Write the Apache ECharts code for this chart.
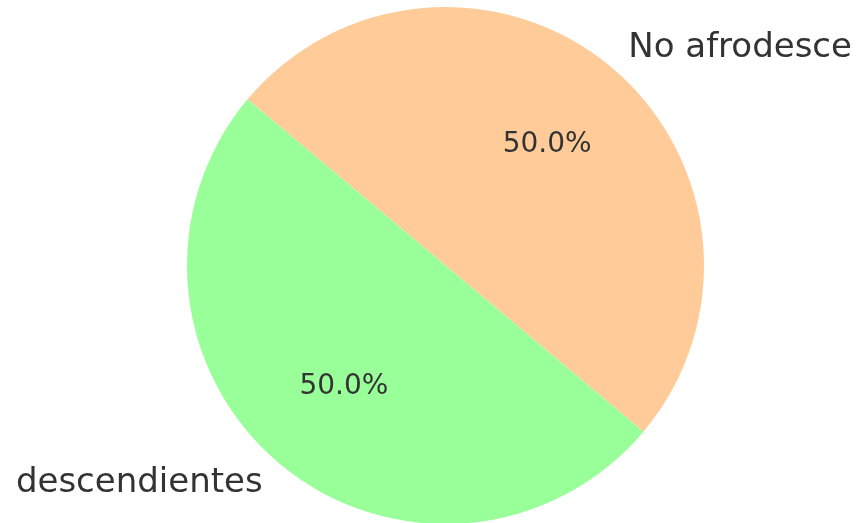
<!DOCTYPE html>
<html>
<head>
<meta charset="utf-8">
<script src="https://cdn.jsdelivr.net/npm/echarts@6/dist/echarts.min.js"></script>
<style>
  html, body { margin: 0; padding: 0; background: #fff; }
  #chart { width: 861px; height: 523px; clip-path: inset(0 6px 0 15px); }
</style>
</head>
<body>
<div id="chart"></div>
<script>
  // slices, clockwise from 140 deg
  var categories = ['No afrodescendientes', 'Afrodescendientes'];
  var values = [50, 50];
  var colors = ['#ffcc99', '#99ff99'];

  var R = 258.5;
  var center = [445.5, 265.5];
  var font = 'DejaVu Sans';

  var data = categories.map(function (name, i) {
    return { name: name, value: values[i], itemStyle: { color: colors[i] } };
  });

  var chart = echarts.init(document.getElementById('chart'));
  chart.setOption({
    animation: false,
    backgroundColor: '#fff',
    series: [
      {
        type: 'pie',
        center: center,
        radius: [0, R],
        startAngle: 140,
        clockwise: true,
        avoidLabelOverlap: false,
        silent: true,
        data: data,
        label: {
          show: true,
          position: 'outside',
          alignTo: 'none',
          overflow: 'none',
          distanceToLabelLine: 0,
          color: '#333',
          fontFamily: font,
          fontSize: 34,
          verticalAlign: 'middle'
        },
        labelLine: { show: false, length: R * 0.1, length2: 0 }
      },
      {
        // percentages at 0.6 R
        type: 'pie',
        center: center,
        radius: [R * 0.5, R * 0.7],
        startAngle: 140,
        clockwise: true,
        silent: true,
        data: data.map(function (d) { return { name: d.name, value: d.value, itemStyle: { color: 'transparent' } }; }),
        label: {
          show: true,
          position: 'inside',
          formatter: function (p) { return p.percent.toFixed(1) + '%'; },
          color: '#333',
          fontFamily: font,
          fontSize: 28
        },
        labelLine: { show: false }
      }
    ]
  });
</script>
</body>
</html>
